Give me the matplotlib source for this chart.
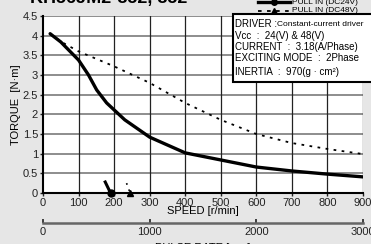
import matplotlib
matplotlib.use("Agg")
import matplotlib.pyplot as plt

plt.rcParams['font.family'] = ['Liberation Sans', 'DejaVu Sans']

title = "KH56JM2-852, 852"
speed_24 = [20, 50, 100, 128, 151, 179, 230, 300, 400, 500, 600, 700, 800, 900]
torque_24 = [4.05, 3.84, 3.38, 3.0, 2.62, 2.29, 1.86, 1.42, 1.02, 0.84, 0.66, 0.56, 0.48, 0.41]
speed_48 = [20, 50, 100, 200, 300, 400, 500, 600, 700, 800, 900]
torque_48 = [4.05, 3.85, 3.6, 3.22, 2.8, 2.29, 1.86, 1.5, 1.27, 1.12, 0.99]
start_24 = [[175, 190], [0.28, 0.0]]
start_48 = [[235, 245], [0.25, 0.0]]
xticks = [0, 100, 200, 300, 400, 500, 600, 700, 800, 900]
yticks = [0, 0.5, 1, 1.5, 2, 2.5, 3, 3.5, 4, 4.5]
pulse_ticks = [0, 1000, 2000, 3000]
info_lines = ["Vcc  :  24(V) & 48(V)", "CURRENT  :  3.18(A/Phase)",
              "EXCITING MODE  :  2Phase", "INERTIA  :  970(g \u00b7 cm\u00b2)"]

W, H = 371, 244
fig = plt.figure(figsize=(W / 100, H / 100), dpi=100)
bg = '#e6e6e6'
fig.patch.set_facecolor(bg)

def fx(px):
    return px / W

def fy(py):
    return 1 - py / H

ax = fig.add_axes([fx(43), fy(193), fx(363) - fx(43), fy(16) - fy(193)])
ax.set_facecolor('white')
ax.set_xlim(0, 900)
ax.set_ylim(0, 4.5)
ax.set_xticks(xticks)
ax.set_yticks(yticks)
ax.set_yticklabels(['0', '0.5', '1', '1.5', '2', '2.5', '3', '3.5', '4', '4.5'])
ax.tick_params(labelsize=8, length=2, width=1, pad=1.5, colors='#222222')
for y in yticks[1:]:
    ax.axhline(y, color='#7a7a7a', lw=1.2, zorder=1)
for x in xticks[1:]:
    ax.axvline(x, color='#222222', lw=0.9, zorder=1)
for s in ['top', 'right']:
    ax.spines[s].set_visible(False)
ax.spines['left'].set_linewidth(1.5)
ax.spines['bottom'].set_linewidth(1.5)

ax.plot(speed_24, torque_24, color='black', lw=2.4, zorder=3, solid_capstyle='round')
ax.plot(speed_48, torque_48, color='black', lw=1.3, ls=(0, (1.5, 3)), zorder=3)
ax.plot(start_24[0], start_24[1], color='black', lw=2.2, zorder=4, clip_on=False)
ax.plot([start_24[0][1]], [start_24[1][1]], 'o', color='black', ms=5, zorder=5, clip_on=False)
ax.plot(start_48[0], start_48[1], color='black', lw=1.2, ls=(0, (1, 3)), zorder=4, clip_on=False)
ax.plot([start_48[0][1]], [start_48[1][1]], '^', color='black', ms=5, zorder=5, clip_on=False)

ax.set_xlabel("SPEED [r/min]", fontsize=8, labelpad=-1)
ax.set_ylabel("TORQUE  [N\u00b7m]", fontsize=8, labelpad=1)

# pulse rate axis
ax2 = fig.add_axes([fx(43), fy(223), fx(363) - fx(43), 0.0001])
ax2.set_xlim(0, 3000)
ax2.set_facecolor('none')
for s in ['top', 'right', 'left']:
    ax2.spines[s].set_visible(False)
ax2.spines['bottom'].set_color('#666666')
ax2.spines['bottom'].set_linewidth(1.8)
ax2.set_yticks([])
ax2.set_xticks(pulse_ticks)
ax2.tick_params(axis='x', direction='in', length=3, width=1.2, labelsize=8, pad=3, colors='#222222')
ax2.set_xlabel("PULSE RATE [pps]", fontsize=8, labelpad=4)

# title (clipped at top)
fig.text(fx(30), fy(-2), title, fontsize=13, fontweight='bold', va='center', ha='left')

# legend
fig.add_artist(plt.Line2D([fx(258), fx(290)], [fy(2), fy(2)], color='black', lw=2.4))
fig.add_artist(plt.Line2D([fx(274)], [fy(2)], marker='o', color='black', ms=4))
fig.text(fx(292), fy(2), "PULL IN (DC24V)", fontsize=6, va='center', ha='left')
fig.add_artist(plt.Line2D([fx(258), fx(290)], [fy(11), fy(11)], color='black', lw=1.3, ls=(0, (2, 3))))
fig.add_artist(plt.Line2D([fx(274)], [fy(11)], marker='^', color='black', ms=4))
fig.text(fx(292), fy(11), "PULL IN (DC48V)", fontsize=6, va='center', ha='left')
fig.add_artist(plt.Line2D([fx(240), fx(366)], [fy(14.5), fy(14.5)], color='#333333', lw=1))

# info box
box = plt.Rectangle((fx(233), fy(82)), fx(150), fy(14) - fy(82), transform=fig.transFigure,
                    facecolor='white', edgecolor='black', lw=1.5, zorder=10)
fig.add_artist(box)
fig.text(fx(235), fy(24), "DRIVER :", fontsize=7, va='center', ha='left', zorder=11)
fig.text(fx(277), fy(24), "Constant-current driver", fontsize=6, va='center', ha='left', zorder=11)
for line, yy in zip(info_lines, [36, 47, 58, 72]):
    fig.text(fx(235), fy(yy), line, fontsize=7, va='center', ha='left', zorder=11)

fig.savefig("out.png", dpi=100, facecolor=bg)
